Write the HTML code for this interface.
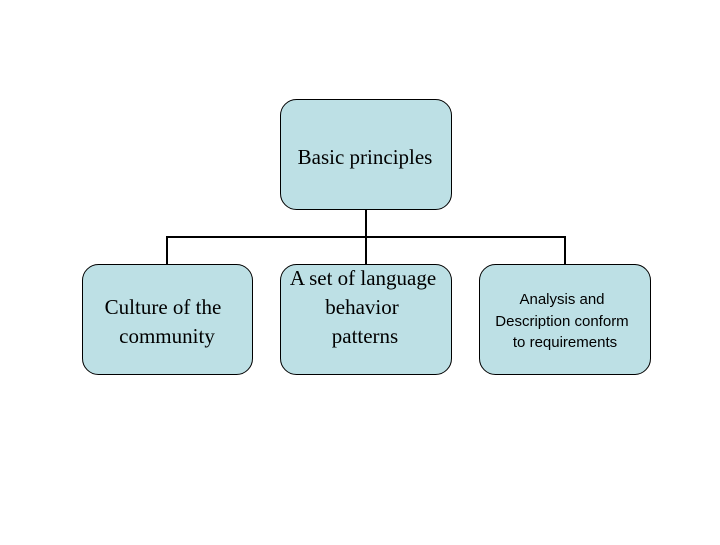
<!DOCTYPE html>
<html><head><style>body{margin:0;background:#fff}</style></head><body>
<svg width="720" height="540" xmlns="http://www.w3.org/2000/svg">
<rect width="720" height="540" fill="#fff"/>
<g stroke="#000" stroke-width="2" fill="none">
<line x1="366" y1="209" x2="366" y2="264"/>
<line x1="166" y1="237" x2="566" y2="237"/>
<line x1="167" y1="236" x2="167" y2="264"/>
<line x1="565" y1="236" x2="565" y2="264"/>
</g>
<g fill="#bde0e5" stroke="#000" stroke-width="1">
<rect x="280.5" y="99.5" width="171" height="110" rx="16"/>
<rect x="82.5" y="264.5" width="170" height="110" rx="16"/>
<rect x="280.5" y="264.5" width="171" height="110" rx="16"/>
<rect x="479.5" y="264.5" width="171" height="110" rx="16"/>
</g>
<g font-family="Liberation Serif, serif" font-size="21" fill="#000" text-anchor="middle">
<text x="365" y="164">Basic principles</text>
<text x="163" y="314">Culture of the</text>
<text x="167" y="343">community</text>
<text x="363" y="285">A set of language</text>
<text x="362" y="314">behavior</text>
<text x="365" y="343">patterns</text>
</g>
<g font-family="Liberation Sans, sans-serif" font-size="15" fill="#000" text-anchor="middle">
<text x="562" y="304">Analysis and</text>
<text x="562" y="326">Description conform</text>
<text x="565" y="347">to requirements</text>
</g>
</svg>
</body></html>
